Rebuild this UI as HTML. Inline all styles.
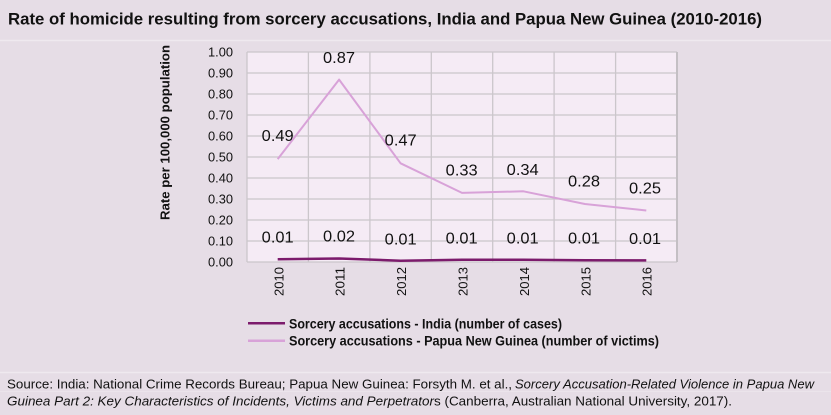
<!DOCTYPE html>
<html><head><meta charset="utf-8"><style>
html,body{margin:0;padding:0;background:#e6dde6;}
svg{display:block;}
text{font-family:"Liberation Sans",Arial,sans-serif;fill:#111;}
</style></head><body>
<svg width="831" height="415" viewBox="0 0 831 415" xmlns="http://www.w3.org/2000/svg">
<rect x="0" y="0" width="831" height="415" fill="#e6dde6"/>
<line x1="0" y1="40.5" x2="831" y2="40.5" stroke="#efe9ef" stroke-width="1.5"/>
<line x1="0" y1="372.5" x2="831" y2="372.5" stroke="#efe9ef" stroke-width="1.5"/>
<line x1="0" y1="391.5" x2="831" y2="391.5" stroke="#ebe4eb" stroke-width="1"/>
<text x="8" y="24.5" font-size="17" font-weight="bold" textLength="754" lengthAdjust="spacingAndGlyphs">Rate of homicide resulting from sorcery accusations, India and Papua New Guinea (2010-2016)</text>

<!-- plot area -->
<rect x="247" y="52" width="430" height="210" fill="#f5ebf5"/>
<g stroke="#cbc6cb" stroke-width="1.3">
<line x1="247" y1="52" x2="677" y2="52"/>
<line x1="247" y1="73" x2="677" y2="73"/>
<line x1="247" y1="94" x2="677" y2="94"/>
<line x1="247" y1="115" x2="677" y2="115"/>
<line x1="247" y1="136" x2="677" y2="136"/>
<line x1="247" y1="157" x2="677" y2="157"/>
<line x1="247" y1="178" x2="677" y2="178"/>
<line x1="247" y1="199" x2="677" y2="199"/>
<line x1="247" y1="220" x2="677" y2="220"/>
<line x1="247" y1="241" x2="677" y2="241"/>
<line x1="247" y1="262" x2="677" y2="262"/>
<line x1="247" y1="52" x2="247" y2="262"/>
<line x1="308.4" y1="52" x2="308.4" y2="262"/>
<line x1="369.9" y1="52" x2="369.9" y2="262"/>
<line x1="431.3" y1="52" x2="431.3" y2="262"/>
<line x1="492.7" y1="52" x2="492.7" y2="262"/>
<line x1="554.1" y1="52" x2="554.1" y2="262"/>
<line x1="615.6" y1="52" x2="615.6" y2="262"/>
</g>
<line x1="677" y1="52" x2="677" y2="262" stroke="#c4bfc4" stroke-width="2"/>

<!-- y tick labels -->
<g font-size="12.5" text-anchor="end">
<text x="233" y="56.3" textLength="25" lengthAdjust="spacingAndGlyphs">1.00</text>
<text x="233" y="77.3" textLength="25" lengthAdjust="spacingAndGlyphs">0.90</text>
<text x="233" y="98.3" textLength="25" lengthAdjust="spacingAndGlyphs">0.80</text>
<text x="233" y="119.3" textLength="25" lengthAdjust="spacingAndGlyphs">0.70</text>
<text x="233" y="140.3" textLength="25" lengthAdjust="spacingAndGlyphs">0.60</text>
<text x="233" y="161.3" textLength="25" lengthAdjust="spacingAndGlyphs">0.50</text>
<text x="233" y="182.3" textLength="25" lengthAdjust="spacingAndGlyphs">0.40</text>
<text x="233" y="203.3" textLength="25" lengthAdjust="spacingAndGlyphs">0.30</text>
<text x="233" y="224.3" textLength="25" lengthAdjust="spacingAndGlyphs">0.20</text>
<text x="233" y="245.3" textLength="25" lengthAdjust="spacingAndGlyphs">0.10</text>
<text x="233" y="266.3" textLength="25" lengthAdjust="spacingAndGlyphs">0.00</text>
</g>

<!-- y axis title -->
<text transform="translate(169.5,132.5) rotate(-90)" font-size="12.5" font-weight="bold" text-anchor="middle" textLength="175" lengthAdjust="spacingAndGlyphs">Rate per 100,000 population</text>

<!-- x labels -->
<g font-size="12.5" text-anchor="end">
<text transform="translate(283.5,267) rotate(-90)" textLength="29" lengthAdjust="spacingAndGlyphs">2010</text>
<text transform="translate(344.6,267) rotate(-90)" textLength="29" lengthAdjust="spacingAndGlyphs">2011</text>
<text transform="translate(406,267) rotate(-90)" textLength="29" lengthAdjust="spacingAndGlyphs">2012</text>
<text transform="translate(467.4,267) rotate(-90)" textLength="29" lengthAdjust="spacingAndGlyphs">2013</text>
<text transform="translate(528.8,267) rotate(-90)" textLength="29" lengthAdjust="spacingAndGlyphs">2014</text>
<text transform="translate(590.3,267) rotate(-90)" textLength="29" lengthAdjust="spacingAndGlyphs">2015</text>
<text transform="translate(651.7,267) rotate(-90)" textLength="29" lengthAdjust="spacingAndGlyphs">2016</text>
</g>

<!-- series -->
<polyline fill="none" stroke="#d8a2d8" stroke-width="2" stroke-linejoin="round" points="277.7,159.1 339.1,79.6 400.6,163.3 462,192.9 523.4,191.3 584.9,204 646.3,210.5"/>
<polyline fill="none" stroke="#7c1b6c" stroke-width="2.5" stroke-linejoin="round" points="277.7,259.3 339.1,258.5 400.6,260.7 462,259.7 523.4,259.8 584.9,260.3 646.3,260.4"/>

<!-- data labels -->
<g font-size="16" text-anchor="middle">
<text x="277.7" y="141" textLength="32" lengthAdjust="spacingAndGlyphs">0.49</text>
<text x="339" y="63" textLength="32" lengthAdjust="spacingAndGlyphs">0.87</text>
<text x="400.7" y="145.7" textLength="32" lengthAdjust="spacingAndGlyphs">0.47</text>
<text x="461.7" y="175.7" textLength="32" lengthAdjust="spacingAndGlyphs">0.33</text>
<text x="522.7" y="175" textLength="32" lengthAdjust="spacingAndGlyphs">0.34</text>
<text x="584" y="186.7" textLength="32" lengthAdjust="spacingAndGlyphs">0.28</text>
<text x="645" y="193.3" textLength="32" lengthAdjust="spacingAndGlyphs">0.25</text>
<text x="277.7" y="242.7" textLength="32" lengthAdjust="spacingAndGlyphs">0.01</text>
<text x="339" y="241.7" textLength="32" lengthAdjust="spacingAndGlyphs">0.02</text>
<text x="400.7" y="244.3" textLength="32" lengthAdjust="spacingAndGlyphs">0.01</text>
<text x="461.7" y="243.3" textLength="32" lengthAdjust="spacingAndGlyphs">0.01</text>
<text x="522.7" y="243.3" textLength="32" lengthAdjust="spacingAndGlyphs">0.01</text>
<text x="584" y="243.3" textLength="32" lengthAdjust="spacingAndGlyphs">0.01</text>
<text x="645" y="244" textLength="32" lengthAdjust="spacingAndGlyphs">0.01</text>
</g>

<!-- legend -->
<line x1="248" y1="323.3" x2="285" y2="323.3" stroke="#7c1b6c" stroke-width="2.5"/>
<line x1="248" y1="340.7" x2="285" y2="340.7" stroke="#d8a2d8" stroke-width="2.5"/>
<text x="289" y="328.3" font-size="13.5" font-weight="bold" textLength="273" lengthAdjust="spacingAndGlyphs">Sorcery accusations - India (number of cases)</text>
<text x="289" y="345.7" font-size="13.5" font-weight="bold" textLength="370" lengthAdjust="spacingAndGlyphs">Sorcery accusations - Papua New Guinea (number of victims)</text>

<!-- source -->
<text x="7" y="388.3" font-size="13" textLength="505" lengthAdjust="spacingAndGlyphs">Source: India: National Crime Records Bureau; Papua New Guinea: Forsyth M. et al.,</text>
<text x="515" y="388.3" font-size="13" font-style="italic" textLength="299" lengthAdjust="spacingAndGlyphs">Sorcery Accusation-Related Violence in Papua New</text>
<text x="7" y="405.5" font-size="13" font-style="italic" textLength="427" lengthAdjust="spacingAndGlyphs">Guinea Part 2: Key Characteristics of Incidents, Victims and Perpetrator</text>
<text x="434" y="405.5" font-size="13" textLength="298" lengthAdjust="spacingAndGlyphs">s (Canberra, Australian National University, 2017).</text>
</svg>
</body></html>
